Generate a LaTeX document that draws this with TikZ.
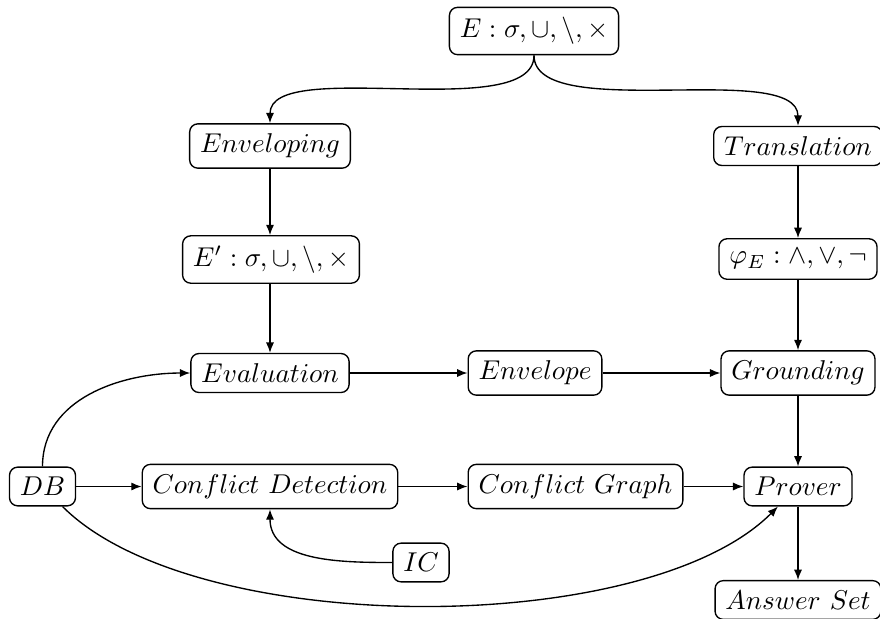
\documentclass[tikz,border=0pt]{standalone}
\usetikzlibrary{arrows.meta}
\begin{document}
\begin{tikzpicture}[x=0.3676pt,y=0.3676pt,
  box/.style={draw,rounded corners=3pt,inner xsep=3.8pt,inner ysep=3.7pt,line width=0.5pt},
  arr/.style={-{Latex[length=3.8pt,width=3pt]},line width=0.5pt}]
\useasboundingbox (0,0) rectangle (880,-618);
\node[box] (E) at (534,-31) {$E:\sigma,\cup,\setminus,\times$};
\node[box] (Env) at (270,-146) {$Enveloping$};
\node[box] (Tr) at (798,-146) {$Translation$};
\node[box] (Ep) at (271,-259.5) {$E':\sigma,\cup,\setminus,\times$};
\node[box] (Phi) at (798,-259) {$\varphi_E:\wedge,\vee,\neg$};
\node[box] (Ev) at (270,-373) {$Evaluation$};
\node[box,anchor=west] (Envl) at (467.5,-373) {$Envelope$};
\node[box] (Gr) at (798,-373) {$Grounding$};
\node[box] (DB) at (42.5,-486.5) {$DB$};
\node[box] (CD) at (270,-486.5) {$Conflict\ Detection$};
\node[box,anchor=west] (CG) at (467.5,-486.5) {$Conflict\ Graph$};
\node[box] (Pr) at (798,-486.5) {$Prover$};
\node[box] (IC) at (421,-562.5) {$IC$};
\node[box] (AS) at (798,-600) {$Answer\ Set$};
\draw[arr] (E.south) .. controls +(0,-69) and +(0,67) .. (Env.north);
\draw[arr] (E.south) .. controls +(0,-69) and +(0,67) .. (Tr.north);
\draw[arr] (Env) -- (Env |- Ep.north);
\draw[arr] (Env |- Ep.south) -- (Ev);
\draw[arr] (Tr) -- (Phi);
\draw[arr] (Phi) -- (Gr);
\draw[arr] (Ev) -- (Envl);
\draw[arr] (Envl) -- (Gr);
\draw[arr] (Gr) -- (Pr);
\draw[arr] (DB) -- (CD);
\draw[arr] (CD) -- (CG);
\draw[arr] (CG) -- (Pr);
\draw[arr] (Pr) -- (AS);
\draw[arr] (DB.north) to[out=90,in=180] (Ev.west);
\draw[arr] (IC.west) to[out=180,in=-90] (CD.south);
\draw[arr] (DB) to[out=-45,in=-135,looseness=0.67] (Pr);
\end{tikzpicture}
\end{document}
